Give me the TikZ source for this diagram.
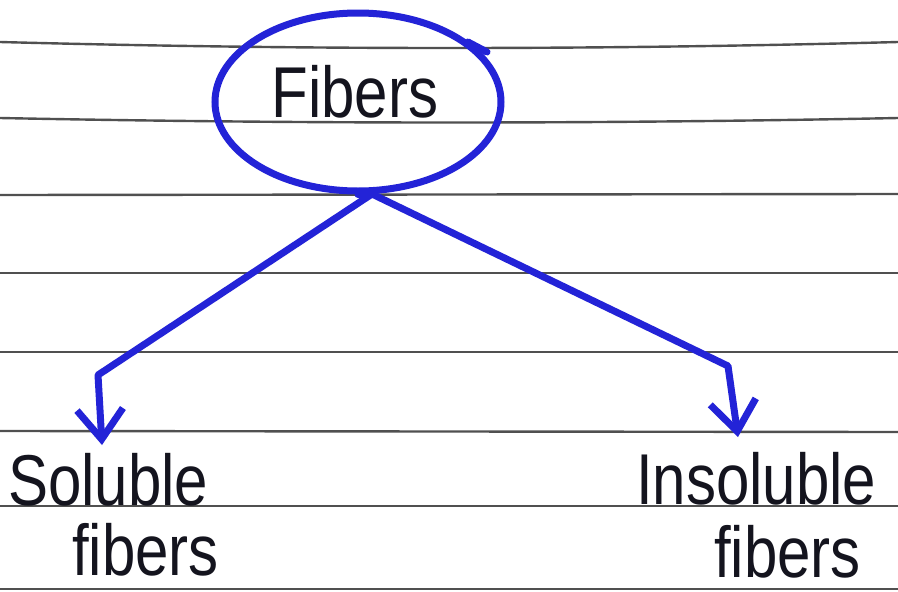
\documentclass[tikz,border=0pt]{standalone}
\usepackage{fontspec}
\setmainfont{Liberation Sans}
\usetikzlibrary{shapes.geometric,arrows.meta}
\definecolor{pen}{RGB}{35,35,215}
\definecolor{rule}{RGB}{80,80,80}
\definecolor{ink}{RGB}{20,20,30}
\tikzset{
  ruleline/.style={draw=rule,line width=2.4pt},
  penline/.style={draw=pen,line width=7pt,line cap=round,line join=round},
  penarrow/.style={penline,-{Straight Barb[length=30pt,width=46pt,line width=7pt]}},
  hand/.style={inner sep=0pt,text=ink,font=\fontsize{60}{66}\selectfont},
}
\newcommand{\tallt}[1]{\scalebox{1}[1.2]{#1}}
\begin{document}
\begin{tikzpicture}[x=1pt,y=-1pt]
\useasboundingbox (0,0) rectangle (898,592);
\fill[white] (0,0) rectangle (898,592);
% ruled paper
\draw[ruleline] (0,42) .. controls (300,50) and (600,50) .. (898,42);
\draw[ruleline] (0,118) .. controls (300,124) and (600,124) .. (898,118);
\draw[ruleline] (0,195) -- (898,194);
\draw[ruleline] (0,273) -- (898,273);
\draw[ruleline] (0,352) -- (898,352);
\draw[ruleline] (0,431) -- (898,432);
\draw[ruleline] (0,506) -- (898,506);
\draw[ruleline] (0,589) -- (898,589);
% nodes
\node[ellipse,draw=pen,line width=7pt,minimum width=286pt,minimum height=178pt,inner sep=0pt] (fib) at (358,102) {};
\node[hand] (fibtxt) at (355,92) {\tallt{Fibers}};
\node[hand,anchor=west] (sol) at (8,480) {\tallt{Soluble}};
\node[hand,anchor=west] (solb) at (72,550) {\tallt{fibers}};
\node[hand,anchor=west] (ins) at (636,479) {\tallt{Insoluble}};
\node[hand,anchor=west] (insb) at (714,552) {\tallt{fibers}};
% pen tick at top of the circle
\coordinate (tickA) at (468,42);
\coordinate (tickB) at (487,52);
\draw[penline] (tickA) -- (tickB);
% connectors
\coordinate (split) at (372,194);
\coordinate (bendL) at (98,375);
\coordinate (tipL) at (102,445);
\coordinate (bendR) at (728,366);
\coordinate (tipR) at (738,437);
\draw[penline] (fib.south) -- (split);
\draw[penarrow] (split) -- (bendL) -- (tipL);
\draw[penarrow] (split) -- (bendR) -- (tipR);
\end{tikzpicture}
\end{document}
